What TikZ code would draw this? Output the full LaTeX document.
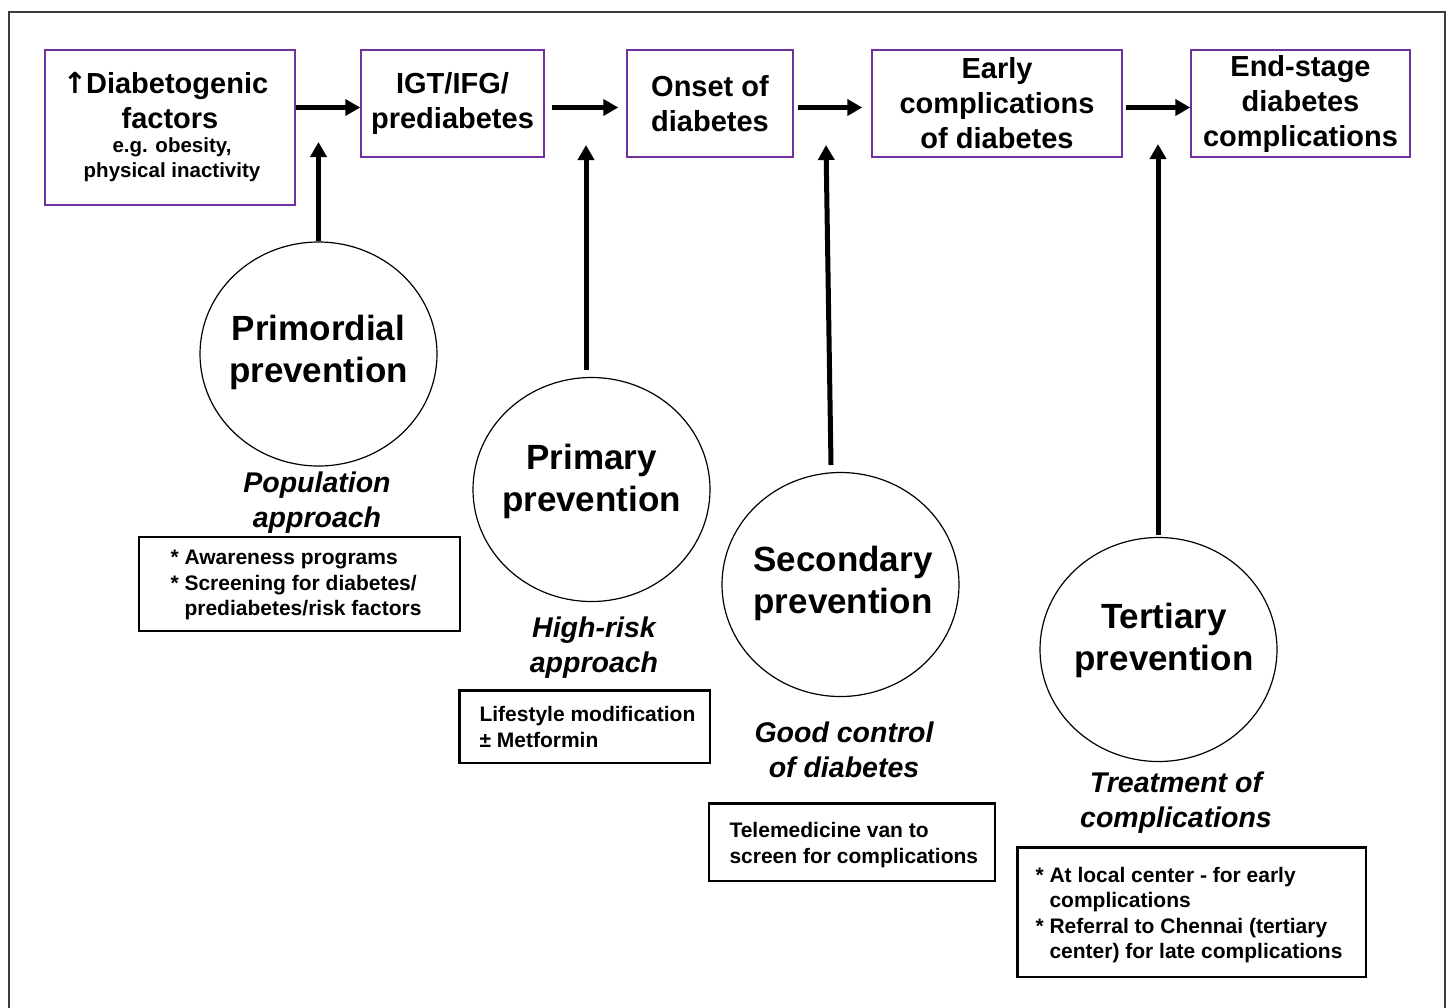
\documentclass[tikz,border=0pt]{standalone}
\usepackage{fontspec}
\setmainfont{Liberation Sans}
\newfontfamily\symfont{DejaVu Sans}
\usetikzlibrary{arrows.meta,shapes.geometric}
\definecolor{boxpurple}{RGB}{112,48,160}
\definecolor{framegray}{RGB}{60,60,60}
\newcommand{\fsz}[2]{\fontsize{#1pt}{#2pt}\selectfont}
\tikzset{
  stage/.style={draw=boxpurple, line width=1.4pt, minimum height=107pt, inner sep=0pt, align=center, font=\bfseries\fsz{29}{35}},
  phase/.style={ellipse, draw=black, line width=1.2pt, minimum width=237pt, minimum height=224pt, inner sep=0pt},
  phasetext/.style={align=center, font=\bfseries\fsz{35}{42}},
  approach/.style={align=center, font=\bfseries\itshape\fsz{28.5}{35}},
  notetext/.style={align=left, anchor=west, font=\bfseries\fsz{21}{25.5}},
  notebox/.style={draw=black, line width=2.4pt},
  flow/.style={line width=5pt, -{Triangle[length=15pt,width=16pt]}},
}
\begin{document}
\begin{tikzpicture}[x=1pt,y=-1pt]
\useasboundingbox (0,0) rectangle (1448,1007);
% outer frame (open at the bottom)
\draw[framegray, line width=1.5pt] (9,1010) -- (9,12) -- (1445,12) -- (1445,1010);

% stage boxes
\node[stage, minimum width=250pt, minimum height=155pt] (b1) at (170,127.5) {};
\node[align=center, font=\bfseries\fsz{29}{35}] (b1t) at (167,101) {{\symfont\kern-3pt↑\kern-1pt}Diabetogenic\\\hspace*{6pt}factors};
\node[align=center, font=\bfseries\fsz{20.5}{25}] (b1s) at (172,160) {e.g. obesity,\\physical inactivity};
\node[stage, minimum width=183pt] (b2) at (452.5,103.5) {IGT/IFG/\\prediabetes};
\node[stage, minimum width=166pt] (b3) at (710,103.5) {Onset of\\diabetes};
\node[stage, minimum width=250pt] (b4) at (997,103.5) {Early\\complications\\of diabetes};
\node[stage, minimum width=219pt] (b5) at (1300.5,103.5) {End-stage\\diabetes\\complications};

% horizontal arrows
\draw[flow] ([yshift=-4pt]b1.east |- b2.west) -- ([yshift=-4pt]b2.west);
\draw[flow, shorten <=7pt, shorten >=8pt] ([yshift=-4pt]b2.east) -- ([yshift=-4pt]b3.west);
\draw[flow, shorten <=4pt, shorten >=9pt] ([yshift=-4pt]b3.east) -- ([yshift=-4pt]b4.west);
\draw[flow, shorten <=3pt] ([yshift=-4pt]b4.east) -- ([yshift=-4pt]b5.west);

% prevention ellipses
\node[phase] (c1) at (318.5,354) {};
\node[phase] (c2) at (591.5,489.5) {};
\node[phase] (c3) at (840.5,584.5) {};
\node[phase] (c4) at (1158.5,649.5) {};
\node[phasetext] (c1t) at (318.5,352) {Primordial\\prevention};
\node[phasetext] (c2t) at (591.5,481) {Primary\\prevention};
\node[phasetext] (c3t) at (843,583.5) {Secondary\\prevention};
\node[phasetext] (c4t) at (1164,640.5) {Tertiary\\prevention};

% arrow tips and starts
\coordinate (t1) at (318.5,142);
\coordinate (t2) at (586,145);
\coordinate (t3) at (826,145);
\coordinate (t4) at (1158,144);
\coordinate (s2) at (586,370);
\coordinate (s3) at (831,465);
\coordinate (s4) at (1158,535);

\draw[flow] (c1.north) -- (t1);
\draw[flow] (s2) -- (t2);
\draw[flow] (s3) -- (t3);
\draw[flow] (s4) -- (t4);

% approaches
\node[approach] (a1) at (317,502.5) {Population\\approach};
\node[approach] (a2) at (594,648) {High-risk\\approach};
\node[approach] (a3) at (844,750) {Good control\\of diabetes};
\node[approach] (a4) at (1176,803) {Treatment of\\complications};

% note boxes
\draw[notebox] (139,537) rectangle (460,631);
\node[notetext] (n1) at (167,585) {* Awareness programs\\* Screening for diabetes/\\\hphantom{* }prediabetes/risk factors};
\draw[notebox] (459.5,690.5) rectangle (710,763);
\node[notetext] (n2) at (476,727) {Lifestyle modification\\± Metformin};
\draw[notebox] (709,803.5) rectangle (995,881);
\node[notetext] (n3) at (726,845) {Telemedicine van to\\screen for complications};
\draw[notebox] (1017.5,847.5) rectangle (1366,977);
\node[notetext] (n4) at (1032,915) {* At local center - for early\\\hphantom{* }complications\\* Referral to Chennai (tertiary\\\hphantom{* }center) for late complications};
\end{tikzpicture}
\end{document}
